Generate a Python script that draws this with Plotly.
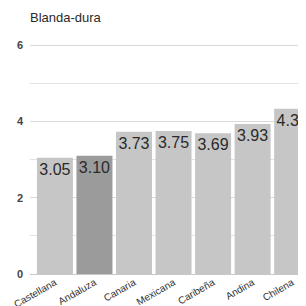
import plotly.graph_objects as go

categories = ["Castellana", "Andaluza", "Canaria", "Mexicana", "Caribeña", "Andina", "Chilena"]
values = [3.05, 3.10, 3.73, 3.75, 3.69, 3.93, 4.33]
bar_colors = ["#c6c6c6", "#9b9b9b", "#c6c6c6", "#c6c6c6", "#c6c6c6", "#c6c6c6", "#c6c6c6"]
labels = [f"{v:.2f}" for v in values]

fig = go.Figure(go.Bar(
    x=categories, y=values, marker=dict(color=bar_colors, line=dict(width=0)),
    text=labels, textposition="inside", insidetextanchor="end",
    textfont=dict(size=16, color="#2a2a2a", family="Liberation Sans"),
    constraintext="none", textangle=0,
))

fig.update_layout(
    width=306, height=306,
    margin=dict(l=22, r=8, t=36, b=40, autoexpand=False),
    paper_bgcolor="white", plot_bgcolor="white",
    bargap=0.09,
    showlegend=False,
    font=dict(family="Liberation Sans", color="#444444"),
    title=dict(text="Blanda-dura", x=22/306, xanchor="left", y=1-9/306, yanchor="middle",
               font=dict(size=13, color="#2a2a2a", family="Liberation Sans")),
    xaxis=dict(range=[-0.63, 6.35], tickangle=-30, tickfont=dict(size=10, color="#333333"),
               showgrid=False, showline=False, ticks="", automargin=False),
    yaxis=dict(range=[0, 6.03], dtick=2, tick0=0, showgrid=True, gridcolor="#d9d9d9", gridwidth=1,
               zeroline=True, zerolinecolor="#c8c8c8", zerolinewidth=1,
               tickfont=dict(size=11, color="#444444", weight="bold"), ticks="", showline=False,
               automargin=False, ticklabelstandoff=6,
               minor=dict(dtick=1, showgrid=True, gridcolor="#e3e3e3", gridwidth=1)),
)

fig.write_html("out.html")
